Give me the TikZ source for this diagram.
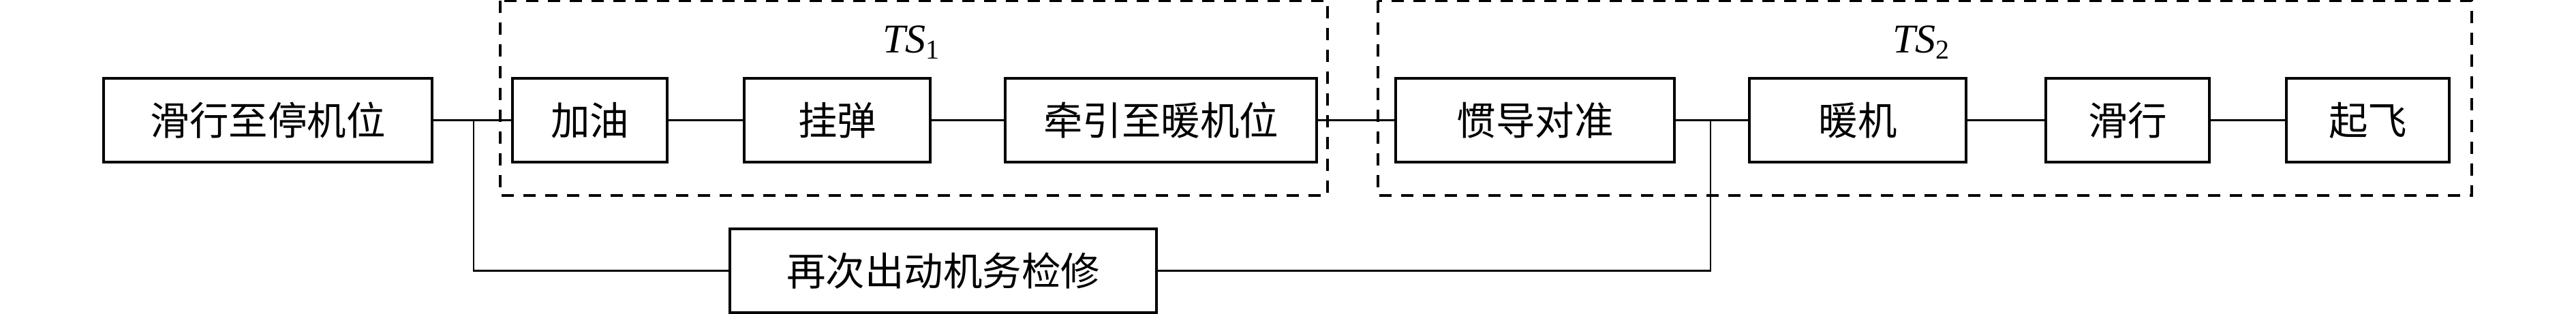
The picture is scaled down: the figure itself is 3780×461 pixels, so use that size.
\documentclass[tikz,border=0pt]{standalone}
\usepackage{fontspec}
\setmainfont{Liberation Serif}
\newfontfamily\cjk{Noto Sans CJK SC}
\usepackage{tikz}

\tikzset{
  stepbox/.style={draw, line width=0.7pt, inner sep=0pt, minimum height=24.6pt,
    font=\cjk\fontsize{11.5}{13}\selectfont},
  link/.style={line width=0.6pt},
  frame/.style={dashed, line width=0.8pt, dash pattern=on 3.6pt off 2.8pt},
  tslabel/.style={font=\fontsize{12}{14}\selectfont}
}

\begin{document}
\begin{tikzpicture}[x=0.2pt,y=0.2pt,yscale=-1,xscale=1]
\useasboundingbox (0,0) rectangle (3780,461);

%Frame: TS1
\draw [frame] (734,1) rectangle (1948,287) ;
\node [tslabel] (ts1) at (1338,62) {\textit{TS}\textsubscript{1}};
%Frame: TS2
\draw [frame] (2022,1) rectangle (3627,287) ;
\node [tslabel] (ts2) at (2820,62) {\textit{TS}\textsubscript{2}};

%Boxes: main row
\node [stepbox, minimum width=96.4pt] (taxiin) at (393,176.5) {滑行至停机位};
\node [stepbox, minimum width=45.4pt] (fuel) at (865.5,176.5) {加油};
\node [stepbox, minimum width=54.6pt] (arm) at (1228.5,176.5) {挂弹};
\node [stepbox, minimum width=91.4pt] (tow) at (1703.5,176.5) {牵引至暖机位};
\node [stepbox, minimum width=81.8pt] (align) at (2252.5,176.5) {惯导对准};
\node [stepbox, minimum width=63.6pt] (warm) at (2726,176.5) {暖机};
\node [stepbox, minimum width=48pt] (taxiout) at (3122,176.5) {滑行};
\node [stepbox, minimum width=47.8pt] (takeoff) at (3474.5,176.5) {起飞};
%Box: maintenance
\node [stepbox, minimum width=125.2pt] (repair) at (1384,397.5) {再次出动机务检修};

%Branch points
\coordinate (j1) at (695,176.5);
\coordinate (j2) at (2510,176.5);

%Connectors
\draw [link] (taxiin) -- (fuel) ;
\draw [link] (fuel) -- (arm) ;
\draw [link] (arm) -- (tow) ;
\draw [link] (tow) -- (align) ;
\draw [link] (align) -- (warm) ;
\draw [link] (warm) -- (taxiout) ;
\draw [link] (taxiout) -- (takeoff) ;
\draw [link, line width=0.5pt] (j1) |- (repair) ;
\draw [link, line width=0.5pt] (repair) -| (j2) ;

\end{tikzpicture}
\end{document}
